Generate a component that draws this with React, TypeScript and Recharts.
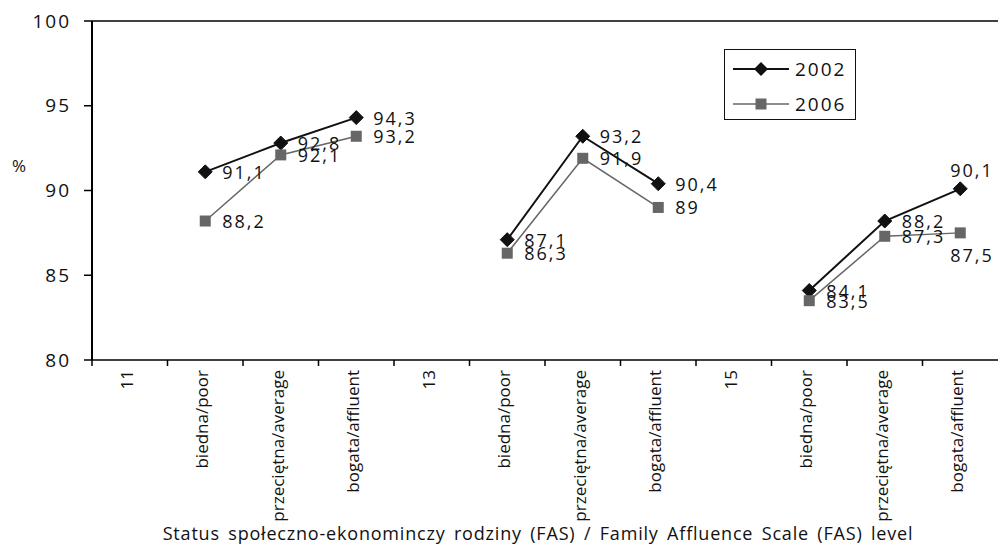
import React from 'react';
import { LineChart, Line, XAxis, YAxis, Legend, LabelList, Label, ReferenceLine } from 'recharts';

const categories = [
  '11', 'biedna/poor', 'przeciętna/average', 'bogata/affluent',
  '13', 'biedna/poor', 'przeciętna/average', 'bogata/affluent',
  '15', 'biedna/poor', 'przeciętna/average', 'bogata/affluent',
];
const values2002 = [null, 91.1, 92.8, 94.3, null, 87.1, 93.2, 90.4, null, 84.1, 88.2, 90.1];
const values2006 = [null, 88.2, 92.1, 93.2, null, 86.3, 91.9, 89, null, 83.5, 87.3, 87.5];
const yTicks = [80, 85, 90, 95, 100];
const xTitle = 'Status społeczno-ekonominczy rodziny (FAS) / Family Affluence Scale (FAS) level';

const FONT = '"Open Sans", "DejaVu Sans", sans-serif';
const CHART_W = 998;
const Y_AXIS_W = 92;
const HALF_BAND = (CHART_W - Y_AXIS_W) / categories.length / 2;

const data = categories.map((c, i) => ({ category: c, y2002: values2002[i], y2006: values2006[i] }));

const fmt = (v: number) => String(v).replace('.', ',');

const CategoryTick = (props: any) => {
  const { x, y, payload } = props;
  return (
    <g>
      <line x1={x - HALF_BAND} y1={y - 8} x2={x - HALF_BAND} y2={y - 2} stroke="#000" strokeWidth={1.5} />
      <text
        x={x + 3}
        y={y + 2}
        transform={`rotate(-90 ${x + 3} ${y + 2})`}
        textAnchor="end"
        fontSize={17}
        fontFamily={FONT}
        fill="#111"
      >
        {payload.value}
      </text>
    </g>
  );
};

const Diamond = (props: any) => {
  const { cx, cy, index } = props;
  if (cx == null || cy == null || props.value == null) return <g key={`d-${index}`} />;
  const r = 7;
  return (
    <polygon
      key={`d-${index}`}
      points={`${cx},${cy - r} ${cx + r},${cy} ${cx},${cy + r} ${cx - r},${cy}`}
      fill="#111"
      stroke="#111"
    />
  );
};

const Square = (props: any) => {
  const { cx, cy, index } = props;
  if (cx == null || cy == null || props.value == null) return <g key={`s-${index}`} />;
  const s = 11;
  return <rect key={`s-${index}`} x={cx - s / 2} y={cy - s / 2} width={s} height={s} fill="#666" />;
};

// most labels sit right of the point; the last ones are moved like in the original
const makeLabel = (lastPlacement: 'above' | 'below') => (props: any) => {
  const { x, y, value, index } = props;
  if (value == null) return null;
  let tx = x + 17;
  let ty = y;
  if (index === categories.length - 1) {
    tx = x - 10;
    ty = lastPlacement === 'above' ? y - 19 : y + 22;
  }
  return (
    <text
      x={tx}
      y={ty}
      dominantBaseline="central"
      fontSize={18}
      letterSpacing={2}
      fontFamily={FONT}
      fill="#111"
    >
      {fmt(value)}
    </text>
  );
};

const LegendBox = () => (
  <div
    style={{
      width: 132,
      height: 71,
      border: '1.5px solid #111',
      boxSizing: 'border-box',
      background: '#fff',
      fontFamily: FONT,
    }}
  >
    <svg width={129} height={68}>
      <line x1={8} y1={19} x2={64} y2={19} stroke="#111" strokeWidth={2} />
      <polygon points="36,12 43,19 36,26 29,19" fill="#111" />
      <text x={70} y={19} dominantBaseline="central" fontSize={19} letterSpacing={2} fill="#111">2002</text>
      <line x1={8} y1={54} x2={64} y2={54} stroke="#666" strokeWidth={1.5} />
      <rect x={30.5} y={48.5} width={11} height={11} fill="#666" />
      <text x={70} y={54} dominantBaseline="central" fontSize={19} letterSpacing={2} fill="#111">2006</text>
    </svg>
  </div>
);

export default function App() {
  return (
    <div style={{ position: 'absolute', left: 0, top: 0, background: '#fff' }}>
      <LineChart width={CHART_W} height={548} data={data} margin={{ top: 21, right: 0, bottom: 0, left: 0 }}>
        <XAxis
          dataKey="category"
          height={188}
          interval={0}
          padding={{ left: HALF_BAND, right: HALF_BAND }}
          tickLine={false}
          tick={<CategoryTick />}
          axisLine={{ stroke: '#000', strokeWidth: 1.5 }}
        >
          <Label
            value={xTitle}
            position="insideBottom"
            offset={8}
            dx={-7}
            fontSize={18}
            letterSpacing={0.8}
            wordSpacing={3}
            fontFamily={FONT}
            fill="#111"
          />
        </XAxis>
        <YAxis
          width={Y_AXIS_W}
          domain={[80, 100]}
          ticks={yTicks}
          tickSize={8}
          tickMargin={13}
          axisLine={{ stroke: '#000', strokeWidth: 2 }}
          tickLine={{ stroke: '#000', strokeWidth: 1.5 }}
          tick={{ fill: '#111', fontSize: 19, fontFamily: FONT, letterSpacing: 2 }}
        >
          <Label
            content={() => (
              <text x={19} y={165} textAnchor="middle" dominantBaseline="central" fontSize={17} fontFamily={FONT} fill="#111">
                %
              </text>
            )}
          />
        </YAxis>
        <ReferenceLine y={100} stroke="#000" strokeWidth={1.5} />
        <Legend
          content={<LegendBox />}
          layout="horizontal"
          verticalAlign="middle"
          align="center"
          wrapperStyle={{ position: 'absolute', left: 724, top: 49, width: 132, height: 71 }}
        />
        <Line
          dataKey="y2002"
          name="2002"
          stroke="#111"
          strokeWidth={2}
          dot={(p: any) => <Diamond {...p} />}
          activeDot={false}
          isAnimationActive={false}
        >
          <LabelList dataKey="y2002" content={makeLabel('above')} />
        </Line>
        <Line
          dataKey="y2006"
          name="2006"
          stroke="#666"
          strokeWidth={1.5}
          dot={(p: any) => <Square {...p} />}
          activeDot={false}
          isAnimationActive={false}
        >
          <LabelList dataKey="y2006" content={makeLabel('below')} />
        </Line>
      </LineChart>
    </div>
  );
}
